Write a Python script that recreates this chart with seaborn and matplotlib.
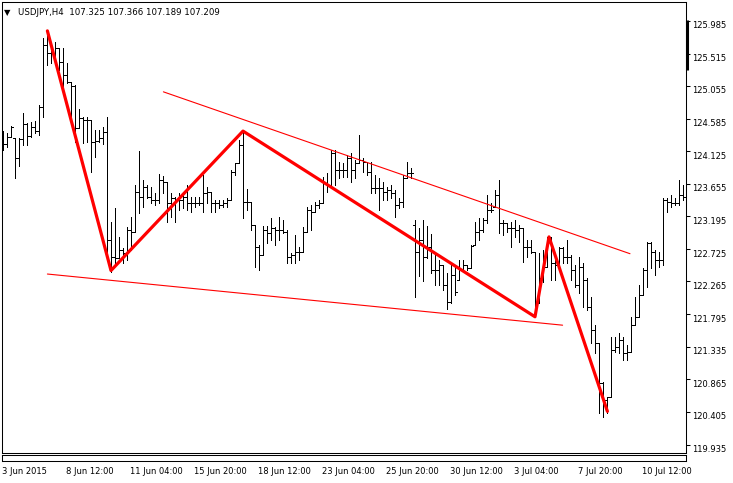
import numpy as np
import pandas as pd
import matplotlib
matplotlib.use('Agg')
import matplotlib.pyplot as plt
import matplotlib.transforms as mtransforms
import seaborn as sns

# USDJPY H4 bars (bar index 0 = 3 Jun 2015), prices
highs = [124.41, 124.38, 124.48, 124.31, 124.31, 124.67, 124.53, 124.54, 124.55, 124.78,
         125.74, 125.85, 125.67, 125.68, 125.60, 125.60, 125.38, 125.11, 125.07, 124.73,
         124.61, 124.61, 124.57, 124.43, 124.43, 124.47, 124.61, 123.11, 123.31, 122.90,
         122.74, 123.04, 123.18, 123.64, 124.13, 123.71, 123.64, 123.61, 123.53, 123.80,
         123.77, 123.68, 123.53, 123.47, 123.53, 123.53, 123.64, 123.47, 123.47, 123.47,
         123.78, 123.61, 123.54, 123.43, 123.43, 123.43, 123.45, 123.85, 123.95, 124.28,
         124.43, 123.58, 123.40, 123.07, 122.78, 123.06, 123.06, 123.17, 123.04, 123.18,
         123.14, 123.00, 122.67, 122.93, 122.76, 123.04, 123.33, 123.36, 123.40, 123.43,
         123.75, 123.81, 124.14, 124.14, 123.97, 123.95, 124.07, 124.10, 124.00, 124.35,
         124.03, 123.97, 123.97, 123.78, 123.74, 123.68, 123.61, 123.64, 123.57, 123.45,
         123.78, 123.97, 123.88, 123.14, 123.03, 123.14, 123.06, 122.94, 122.64, 122.57,
         122.50, 122.38, 122.54, 122.47, 122.57, 122.57, 122.50, 122.78, 123.11, 123.17,
         123.17, 123.50, 123.38, 123.57, 123.71, 123.14, 123.10, 123.11, 123.14, 123.07,
         123.03, 122.86, 122.86, 122.68, 122.67, 122.71, 122.90, 122.90, 122.57, 122.76,
         122.76, 122.86, 122.64, 122.50, 122.61, 122.53, 122.31, 122.04, 121.64, 121.39,
         120.83, 120.62, 121.47, 121.47, 121.53, 121.47, 121.36, 121.76, 122.04, 122.21,
         122.46, 122.83, 122.83, 122.71, 122.68, 123.45, 123.45, 123.50, 123.45, 123.71,
         123.64]
lows = [124.14, 124.18, 124.33, 123.74, 123.91, 124.21, 124.21, 124.33, 124.38, 124.35,
        124.61, 125.35, 125.38, 125.42, 125.28, 124.97, 125.10, 124.61, 124.25, 124.45,
        124.24, 124.25, 123.83, 124.04, 124.25, 124.23, 122.67, 122.40, 122.53, 122.60,
        122.53, 122.57, 122.71, 122.97, 123.24, 123.33, 123.45, 123.38, 123.36, 123.38,
        123.53, 123.11, 123.18, 123.11, 123.28, 123.31, 123.28, 123.26, 123.33, 123.36,
        123.26, 123.38, 123.26, 123.26, 123.31, 123.33, 123.33, 123.43, 123.78, 123.95,
        123.17, 123.28, 123.00, 122.47, 122.43, 122.64, 122.81, 122.86, 122.78, 122.86,
        122.96, 122.53, 122.53, 122.53, 122.57, 122.68, 122.97, 123.00, 123.26, 123.31,
        123.38, 123.54, 123.61, 123.64, 123.74, 123.75, 123.75, 123.68, 123.74, 123.95,
        123.83, 123.78, 123.53, 123.53, 123.28, 123.43, 123.43, 123.45, 123.18, 123.31,
        123.33, 123.74, 123.74, 122.04, 122.34, 122.27, 122.60, 122.38, 122.21, 122.21,
        122.14, 121.87, 121.96, 122.07, 122.28, 122.43, 122.43, 122.46, 122.78, 122.86,
        122.97, 123.10, 123.26, 123.33, 122.96, 122.93, 122.97, 122.76, 122.90, 122.83,
        122.54, 122.61, 122.67, 121.79, 121.96, 122.26, 122.47, 122.28, 122.28, 122.47,
        122.53, 122.53, 122.28, 122.18, 122.10, 121.90, 121.86, 121.39, 121.24, 120.39,
        120.33, 120.39, 120.62, 121.26, 121.24, 121.14, 121.14, 121.26, 121.64, 121.76,
        122.07, 122.18, 122.46, 122.36, 122.47, 122.50, 123.26, 123.33, 123.36, 123.36,
        123.43]
opens = [124.20, 124.23, 124.33, 124.31, 124.03, 124.30, 124.51, 124.34, 124.47, 124.41,
         124.75, 125.64, 125.52, 125.52, 125.60, 125.40, 125.21, 125.11, 125.05, 124.45,
         124.60, 124.57, 124.57, 124.25, 124.27, 124.31, 124.40, 122.86, 122.61, 122.60,
         122.71, 122.67, 123.00, 122.97, 123.54, 123.47, 123.61, 123.47, 123.43, 123.43,
         123.71, 123.68, 123.38, 123.45, 123.43, 123.43, 123.47, 123.38, 123.38, 123.38,
         123.38, 123.53, 123.54, 123.38, 123.38, 123.36, 123.38, 123.43, 123.83, 123.95,
         124.21, 123.40, 123.40, 123.07, 122.76, 122.64, 123.00, 122.96, 123.03, 123.00,
         123.00, 122.97, 122.61, 122.64, 122.68, 122.68, 122.97, 123.28, 123.26, 123.36,
         123.38, 123.67, 123.64, 124.10, 123.85, 123.85, 123.85, 124.03, 123.85, 123.95,
         124.00, 123.97, 123.83, 123.60, 123.60, 123.60, 123.54, 123.57, 123.53, 123.36,
         123.40, 123.74, 123.81, 123.07, 122.68, 122.86, 122.61, 122.76, 122.43, 122.43,
         122.50, 122.21, 121.97, 122.36, 122.28, 122.43, 122.50, 122.46, 122.78, 122.97,
         123.00, 123.14, 123.28, 123.33, 123.50, 123.10, 123.10, 123.03, 123.03, 123.00,
         123.03, 122.76, 122.76, 122.68, 121.96, 122.31, 122.47, 122.90, 122.53, 122.50,
         122.74, 122.61, 122.61, 122.43, 122.21, 122.47, 122.28, 121.90, 121.57, 121.39,
         120.81, 120.57, 120.62, 121.29, 121.33, 121.43, 121.24, 121.26, 121.64, 121.76,
         122.07, 122.43, 122.81, 122.68, 122.57, 122.57, 123.43, 123.40, 123.38, 123.38,
         123.50]
closes = [124.23, 124.33, 124.47, 124.03, 124.30, 124.51, 124.34, 124.47, 124.41, 124.75,
          125.64, 125.52, 125.52, 125.60, 125.40, 125.21, 125.11, 125.05, 124.45, 124.60,
          124.57, 124.57, 124.25, 124.27, 124.31, 124.40, 122.86, 122.61, 122.60, 122.71,
          122.67, 123.00, 122.97, 123.54, 123.47, 123.61, 123.47, 123.43, 123.43, 123.71,
          123.68, 123.38, 123.45, 123.43, 123.43, 123.47, 123.38, 123.38, 123.38, 123.38,
          123.53, 123.54, 123.38, 123.38, 123.36, 123.38, 123.43, 123.83, 123.95, 124.21,
          123.40, 123.40, 123.07, 122.76, 122.64, 123.00, 122.96, 123.03, 123.00, 123.00,
          122.97, 122.61, 122.64, 122.68, 122.68, 122.97, 123.28, 123.26, 123.36, 123.38,
          123.67, 123.64, 124.10, 123.85, 123.85, 123.85, 124.03, 123.85, 123.95, 124.00,
          123.97, 123.83, 123.60, 123.60, 123.60, 123.54, 123.57, 123.53, 123.36, 123.40,
          123.74, 123.81, 123.81, 122.68, 122.86, 122.61, 122.76, 122.43, 122.43, 122.50,
          122.21, 121.97, 122.36, 122.11, 122.43, 122.50, 122.46, 122.77, 122.97, 123.00,
          123.14, 123.28, 123.28, 123.50, 123.10, 123.10, 123.03, 123.03, 123.00, 123.03,
          122.76, 122.76, 122.68, 121.90, 122.31, 122.47, 122.90, 122.53, 122.50, 122.74,
          122.61, 122.61, 122.43, 122.21, 122.47, 122.28, 121.90, 121.57, 121.39, 120.81,
          120.57, 120.62, 121.29, 121.33, 121.43, 121.24, 121.26, 121.64, 121.76, 122.07,
          122.43, 122.81, 122.68, 122.57, 122.57, 123.43, 123.40, 123.38, 123.38, 123.50,
          123.47]

# hand drawn objects (bar index, price)
zigzag_bar = [11.1, 27, 60, 133, 136.5, 151.1]
zigzag_price = [125.84, 122.42, 124.41, 121.76, 122.90, 120.41]
upper_bar = [40.1, 156.75]
upper_price = [124.97, 122.66]
lower_bar = [11.1, 139.9]
lower_price = [122.37, 121.64]

price_ticks = [125.985, 125.515, 125.055, 124.585, 124.125, 123.655, 123.195,
               122.725, 122.265, 121.795, 121.335, 120.865, 120.405, 119.935]
date_ticks = [0, 16, 32, 48, 64, 80, 96, 112, 128, 144, 160]
date_labels = ['3 Jun 2015', '8 Jun 12:00', '11 Jun 04:00', '15 Jun 20:00',
               '18 Jun 12:00', '23 Jun 04:00', '25 Jun 20:00', '30 Jun 12:00',
               '3 Jul 04:00', '7 Jul 20:00', '10 Jul 12:00']

df = pd.DataFrame({'open': opens, 'high': highs, 'low': lows, 'close': closes})
df['bar'] = np.arange(len(df))

sns.set_style('white')
plt.rcParams['font.family'] = ['DejaVu Sans']
plt.rcParams['axes.edgecolor'] = 'black'
plt.rcParams['axes.linewidth'] = 0.75
plt.rcParams['text.color'] = 'black'

W, H = 733, 483
fig = plt.figure(figsize=(W / 100, H / 100), dpi=100)
ax = fig.add_axes([2 / W, (H - 453) / H, 684 / W, 451 / H])
sub = fig.add_axes([2 / W, (H - 461) / H, 684 / W, 6 / H], sharex=ax)

# OHLC bars
bar_lw = 0.6
ax.vlines(df['bar'], df['low'], df['high'], color='black', lw=bar_lw, antialiased=False)
ax.hlines(df['open'], df['bar'] - 0.4, df['bar'], color='black', lw=bar_lw, antialiased=False)
ax.hlines(df['close'], df['bar'], df['bar'] + 0.4, color='black', lw=bar_lw, antialiased=False)

# red trend lines and zigzag
sns.lineplot(x=upper_bar, y=upper_price, ax=ax, color='#ff0000', linewidth=0.8,
             sort=False, estimator=None)
sns.lineplot(x=lower_bar, y=lower_price, ax=ax, color='#ff0000', linewidth=0.8,
             sort=False, estimator=None)
sns.lineplot(x=zigzag_bar, y=zigzag_price, ax=ax, color='#ff0000', linewidth=2.3,
             sort=False, estimator=None)

ax.set_xlim(-0.25, 170.75)
ax.set_ylim(119.816, 126.252)
ax.set_xlabel('')
ax.set_ylabel('')
ax.tick_params(axis='x', bottom=False, labelbottom=False)

ax.yaxis.tick_right()
ax.set_yticks(price_ticks)
ax.set_yticklabels([f'{p:.3f}' for p in price_ticks])
ax.tick_params(axis='y', direction='out', length=3, width=0.75, pad=1.5,
               labelsize=6, colors='black')
for lab in ax.get_yticklabels():
    lab.set_transform(lab.get_transform() +
                      mtransforms.ScaledTranslation(0, -0.04, fig.dpi_scale_trans))

sub.set_yticks([])
sub.set_xticks(date_ticks)
sub.set_xticklabels(date_labels, ha='left')
sub.tick_params(axis='x', direction='out', length=3, width=0.75, pad=1.5,
                labelsize=6, colors='black')
for lab in sub.get_xticklabels():
    lab.set_transform(lab.get_transform() +
                      mtransforms.ScaledTranslation(-0.01, 0, fig.dpi_scale_trans))

for a in (ax, sub):
    for s in a.spines.values():
        s.set_visible(True)
        s.set_color('black')
        s.set_linewidth(0.75)

# marker on the right border
ax.plot([1.002, 1.002], [(453 - 70) / 451, (453 - 20) / 451], transform=ax.transAxes,
        color='black', lw=2.2, clip_on=False, solid_capstyle='butt')

fig.text(4 / W, 1 - 12.5 / H, '\u25bc', fontsize=6, va='center', ha='left')
fig.text(18 / W, 1 - 12.5 / H, 'USDJPY,H4  107.325 107.366 107.189 107.209',
         fontsize=6.2, va='center', ha='left')

fig.savefig('out.png', dpi=100)
